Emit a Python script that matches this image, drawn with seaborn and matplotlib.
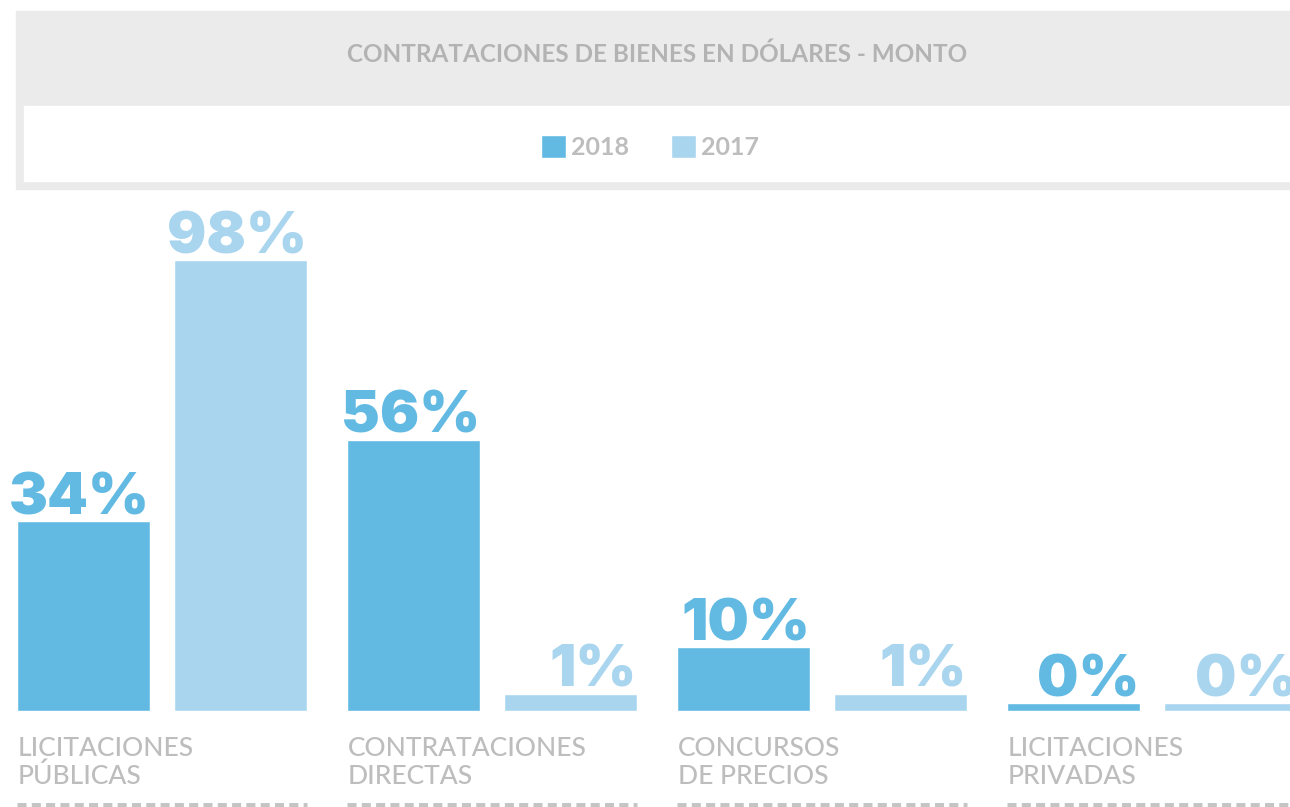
import pandas as pd
import numpy as np
import matplotlib.pyplot as plt
import seaborn as sns
from matplotlib.patches import Rectangle
from matplotlib.lines import Line2D

sns.set_style("white")
plt.rcParams['font.family'] = ['Lato', 'DejaVu Sans']
plt.rcParams['lines.scale_dashes'] = False

# ------------------------- DATA ---------------------------------------
categories = ['LICITACIONES\nPÚBLICAS', 'CONTRATACIONES\nDIRECTAS',
              'CONCURSOS\nDE PRECIOS', 'LICITACIONES\nPRIVADAS']
years = ['2018', '2017']
pct_2018 = [34, 56, 10, 0]          # printed labels
pct_2017 = [98, 1, 1, 0]
# bar heights as drawn in the picture (not proportional to the labels)
height_2018 = [41.2, 58.9, 13.8, 1.6]
height_2017 = [98.0, 3.6, 3.6, 1.6]

title = 'CONTRATACIONES DE BIENES EN DÓLARES - MONTO'
c18, c17 = '#62bae3', '#a9d5ef'
grey_txt = '#bdbdbd'

df = pd.DataFrame({
    'cat': categories * 2,
    'year': [years[0]] * 4 + [years[1]] * 4,
    'h': height_2018 + height_2017,
    'pct': pct_2018 + pct_2017,
})

# ------------------------- FIGURE -------------------------------------
W, H = 1290, 807
fig = plt.figure(figsize=(W / 100, H / 100), dpi=100)
base, top = 710.5, 200
ax = fig.add_axes([0, (H - base) / H, 1, (base - top) / H])
ax.set_zorder(3)

sns.barplot(data=df, x='cat', y='h', hue='year', hue_order=years,
            palette=[c18, c17], width=0.952, gap=0.153, ax=ax,
            saturation=1, legend=True)
px_per_unit = 450.5 / 98.0
ax.set_ylim(0, (base - top) / px_per_unit)
ax.set_xlim(-162 / 330, (W - 162) / 330)
ax.axis('off')

# value labels, right-aligned on each bar (last one runs off the edge, as in the source)
for cont, yr in zip(ax.containers, years):
    vals = df[df['year'] == yr]['pct'].tolist()
    col = c18 if yr == '2018' else c17
    for bar, v in zip(cont, vals):
        ax.annotate(f'{v}%', (bar.get_x() + bar.get_width(), bar.get_height()),
                    xytext=(0, 7), textcoords='offset pixels',
                    ha='right', va='baseline', fontsize=42, fontweight=900,
                    family=['Inter', 'DejaVu Sans'],
                    color=col, annotation_clip=False)

# category labels and dashed underline
bars18 = list(ax.containers[0])
bars17 = list(ax.containers[1])
for cat, b1, b2 in zip(categories, bars18, bars17):
    x0 = b1.get_x()
    x1 = b2.get_x() + b2.get_width()
    ax.text(x0 + 0.003, -26 / px_per_unit, cat, ha='left', va='top',
            fontsize=19, fontweight=500, color=grey_txt, linespacing=1.1,
            clip_on=False)
    ax.add_line(Line2D([x0, x1], [-(806 - base) / px_per_unit] * 2,
                       color='#c4c4c4', lw=5, linestyle=(0, (6.5, 3.8)),
                       clip_on=False))

# header band
fig.add_artist(Rectangle((16 / W, 1 - 189 / H), (W - 16) / W, 178 / H,
                         transform=fig.transFigure, color='#ebebeb', zorder=0))
fig.add_artist(Rectangle((24 / W, 1 - 181 / H), (W - 24) / W, 75 / H,
                         transform=fig.transFigure, color='white', zorder=1))
fig.text(657 / W, 1 - 54 / H, title, ha='center', va='center', fontsize=17.5,
         fontweight='bold', color='#b3b3b3', zorder=2)

sns.move_legend(ax, 'center', bbox_to_anchor=(650 / W, 1 - 147 / H),
                bbox_transform=fig.transFigure, ncol=2, frameon=False,
                title=None, fontsize=18, handlelength=1.0, handleheight=1.0,
                handletextpad=0.2, columnspacing=1.7)
for t in ax.get_legend().get_texts():
    t.set_color(grey_txt)
    t.set_fontweight('bold')

fig.savefig('out.png', dpi=100)
